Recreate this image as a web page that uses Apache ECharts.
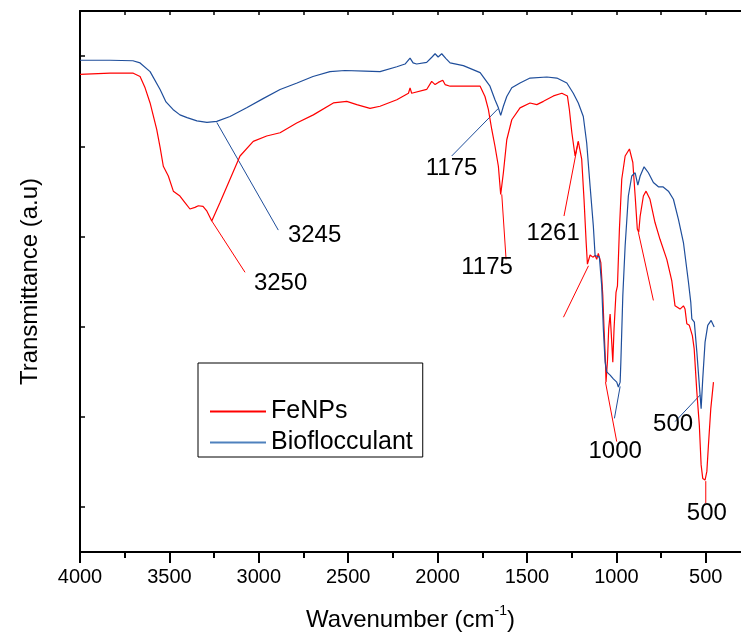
<!DOCTYPE html>
<html>
<head>
<meta charset="utf-8">
<script src="https://cdn.jsdelivr.net/npm/echarts@6/dist/echarts.min.js"></script>
<style>
html,body{margin:0;padding:0;background:#fff;}
#chart{width:741px;height:637px;}
</style>
</head>
<body>
<div id="chart"></div>
<script>
// ---- data (wavenumber cm^-1, transmittance a.u.) ----
const feNPs = [[4000,88.3],[3832,88.5],[3702,88.5],[3664,87.9],[3636,85.8],[3608,83.0],[3571,78.1],[3552,74.8],[3534,71.3],[3506,69.5],[3478,66.7],[3441,65.8],[3413,64.6],[3385,63.4],[3357,63.7],[3338,64.0],[3312,63.9],[3290,63.0],[3263,61.2],[3217,64.6],[3161,68.9],[3105,73.2],[3031,75.9],[2956,76.9],[2881,77.5],[2788,79.3],[2695,80.8],[2583,83.0],[2508,83.3],[2452,82.7],[2378,82.0],[2322,82.4],[2228,83.6],[2163,84.8],[2154,85.8],[2145,84.8],[2061,85.5],[2033,87.0],[2014,86.4],[1996,86.8],[1971,87.2],[1958,86.4],[1930,86.1],[1856,86.1],[1762,86.1],[1735,84.2],[1716,81.8],[1697,78.1],[1679,75.0],[1660,71.3],[1647,66.1],[1632,70.1],[1613,76.2],[1585,79.9],[1539,82.1],[1483,83.0],[1445,82.7],[1408,83.3],[1352,84.3],[1305,84.8],[1274,84.3],[1263,81.8],[1249,77.5],[1231,73.2],[1213,75.9],[1194,72.6],[1181,65.2],[1169,57.2],[1162,53.2],[1147,54.9],[1132,54.5],[1119,54.8],[1110,54.1],[1101,55.2],[1087,53.5],[1076,47.4],[1069,41.3],[1061,35.1],[1058,31.4],[1050,35.2],[1043,41.3],[1035,44.0],[1028,40.0],[1020,35.1],[1013,41.3],[1002,48.0],[994,49.2],[983,59.7],[970,68.9],[951,73.2],[927,74.5],[908,72.0],[895,65.8],[883,59.7],[875,59.1],[867,62.1],[849,65.8],[834,66.7],[812,65.2],[784,60.9],[756,57.8],[718,54.1],[690,50.1],[672,45.5],[644,44.9],[625,45.5],[616,44.9],[606,42.2],[592,41.9],[582,42.2],[575,40.0],[565,37.6],[550,29.6],[536,23.4],[526,16.1],[517,13.6],[504,13.3],[494,14.9],[485,19.8],[472,26.5],[457,31.4]];

const bioflocculant = [[4000,90.9],[3832,90.9],[3704,90.8],[3664,90.4],[3608,88.8],[3552,85.5],[3519,83.2],[3480,81.8],[3441,80.8],[3401,80.3],[3346,79.7],[3290,79.4],[3235,79.6],[3161,80.5],[3068,82.1],[2976,83.8],[2881,85.5],[2786,86.7],[2697,87.9],[2602,88.8],[2518,89.0],[2406,88.9],[2322,88.8],[2228,89.7],[2182,90.2],[2154,91.3],[2137,90.4],[2117,90.2],[2061,90.5],[2031,91.5],[2014,92.1],[1997,91.5],[1977,92.1],[1953,91.2],[1930,90.4],[1856,89.9],[1762,88.6],[1707,86.1],[1679,83.6],[1660,82.1],[1647,80.7],[1632,82.4],[1613,84.2],[1585,85.8],[1539,86.7],[1483,87.6],[1389,87.8],[1333,87.6],[1277,86.7],[1241,84.8],[1213,83.0],[1185,80.5],[1166,75.6],[1147,67.6],[1129,60.3],[1119,54.8],[1110,55.1],[1095,54.5],[1082,49.2],[1073,41.3],[1063,35.1],[1054,33.3],[1035,32.7],[1017,32.0],[998,31.4],[989,30.5],[979,31.4],[975,35.1],[964,47.4],[951,56.6],[933,65.8],[914,69.5],[895,70.1],[880,67.8],[867,69.5],[845,71.2],[821,70.1],[793,68.3],[765,67.5],[740,67.5],[709,66.7],[681,65.2],[653,61.5],[625,57.2],[597,49.9],[584,46.2],[578,43.1],[573,43.4],[564,42.5],[550,37.0],[536,30.8],[526,26.5],[517,32.0],[504,38.8],[489,41.9],[470,42.8],[453,41.6]];

const xTickLabels = [4000,3500,3000,2500,2000,1500,1000,500];
const xMinorTicks = [3750,3250,2750,2250,1750,1250,750];
const xTopTicks = [3750,3500,3250,3000,2750,2500,2250,2000,1750,1500,1250,1000,750,500];
const yTicks = [100/12, 300/12, 500/12, 700/12, 900/12, 1100/12];

// annotation pointer lines: [series, from, to]
const annoLines = [
  ['Bioflocculant',[3235,79.4],[2891,59.5]],
  ['FeNPs',[3263,61.2],[3077,51.7]],
  ['Bioflocculant',[1660,82.0],[1921,73.2]],
  ['FeNPs',[1641,66.1],[1617,54.1]],
  ['FeNPs',[1213,75.9],[1293,62.1]],
  ['FeNPs',[1156,52.9],[1296,43.4]],
  ['FeNPs',[877,59.1],[793,46.5]],
  ['FeNPs',[1061,31.4],[998,20.4]],
  ['Bioflocculant',[979,30.6],[1011,24.7]],
  ['Bioflocculant',[532,29.0],[672,24.1]],
  ['FeNPs',[500,13.1],[500,9.0]]
];
// annotation texts: [text, wavenumber, value]
const annoTexts = [
  ['3245',2688,58.6],
  ['3250',2878,49.6],
  ['1175',1922,70.9],
  ['1175',1723,52.6],
  ['1261',1354,58.9],
  ['1000',1007,18.6],
  ['500',683,23.6],
  ['500',494,7.1]
];

const RED = '#ff0000';
const BLUE = '#1f4e9b';
const FONT = '"Liberation Sans", Arial, sans-serif';
const colorOf = {FeNPs: RED, Bioflocculant: BLUE};

const chart = echarts.init(document.getElementById('chart'), null, {renderer: 'canvas'});

const series = [
  {name:'FeNPs', type:'line', data:feNPs, showSymbol:false, symbol:'none',
   lineStyle:{color:RED, width:1.2}, itemStyle:{color:RED}, z:3},
  {name:'Bioflocculant', type:'line', data:bioflocculant, showSymbol:false, symbol:'none',
   lineStyle:{color:BLUE, width:1.2}, itemStyle:{color:BLUE}, z:3}
];
annoLines.forEach(a => {
  series.push({type:'line', data:[a[1], a[2]], showSymbol:false, symbol:'none', silent:true,
    lineStyle:{color:colorOf[a[0]], width:1}, z:2});
});
series.push({
  type:'scatter', silent:true, symbolSize:0,
  itemStyle:{color:'#000', opacity:1},
  data: annoTexts.map(t => ({value:[t[1], t[2]], label:{formatter:t[0]}})),
  label:{show:true, position:[0,0], align:'center', verticalAlign:'middle',
         fontSize:24, color:'#000', opacity:1, textBorderWidth:0, fontFamily:FONT},
  z:4
});

const option = {
  animation:false,
  backgroundColor:'#fff',
  textStyle:{fontFamily:FONT},
  grid:{left:80, right:0, top:11, bottom:83, containLabel:false},
  legend:{
    data:[{name:'FeNPs', itemStyle:{color:RED}}, {name:'Bioflocculant', itemStyle:{color:'#4f81bd'}}],
    orient:'vertical', left:198, top:363,
    padding:[36,10,2,12], itemGap:6, itemWidth:56, itemHeight:2, icon:'rect',
    borderColor:'#000', borderWidth:1,
    textStyle:{fontSize:25, lineHeight:24, color:'#000', fontFamily:FONT}
  },
  xAxis:[
    {type:'value', inverse:true, min:303, max:4000, position:'bottom', gridIndex:0,
     axisLine:{show:true, onZero:false, lineStyle:{color:'#000', width:2}},
     axisTick:{show:true, inside:false, length:11, customValues:xTickLabels, lineStyle:{color:'#000', width:2}},
     axisLabel:{show:true, customValues:xTickLabels, formatter:v => String(v), fontSize:20, color:'#000', margin:15, fontFamily:FONT},
     splitLine:{show:false},
     name:'Wavenumber (cm{sup|-1})', nameLocation:'middle', nameGap:52,
     nameTextStyle:{fontSize:24, color:'#000', fontFamily:FONT,
       rich:{sup:{fontSize:14, padding:[0,0,18,0], color:'#000', fontFamily:FONT}}}
    },
    {type:'value', inverse:true, min:303, max:4000, position:'bottom', gridIndex:0,
     axisLine:{show:false, onZero:false},
     axisTick:{show:true, inside:false, length:6, customValues:xMinorTicks, lineStyle:{color:'#000', width:2}},
     axisLabel:{show:false}, splitLine:{show:false}
    },
    {type:'value', inverse:true, min:303, max:4000, position:'top', gridIndex:0,
     axisLine:{show:true, onZero:false, lineStyle:{color:'#000', width:2}},
     axisTick:{show:true, inside:true, length:4, customValues:xTopTicks, lineStyle:{color:'#000', width:1.5}},
     axisLabel:{show:false}, splitLine:{show:false}
    }
  ],
  yAxis:[
    {type:'value', min:0, max:100, position:'left',
     axisLine:{show:true, onZero:false, lineStyle:{color:'#000', width:2}},
     axisTick:{show:true, inside:true, length:5, customValues:yTicks, lineStyle:{color:'#000', width:1.5}},
     axisLabel:{show:false}, splitLine:{show:false},
     name:'Transmittance (a.u)', nameLocation:'middle', nameGap:38,
     nameTextStyle:{fontSize:24, color:'#000', fontFamily:FONT}
    }
  ],
  series:series
};
chart.setOption(option);
</script>
</body>
</html>
